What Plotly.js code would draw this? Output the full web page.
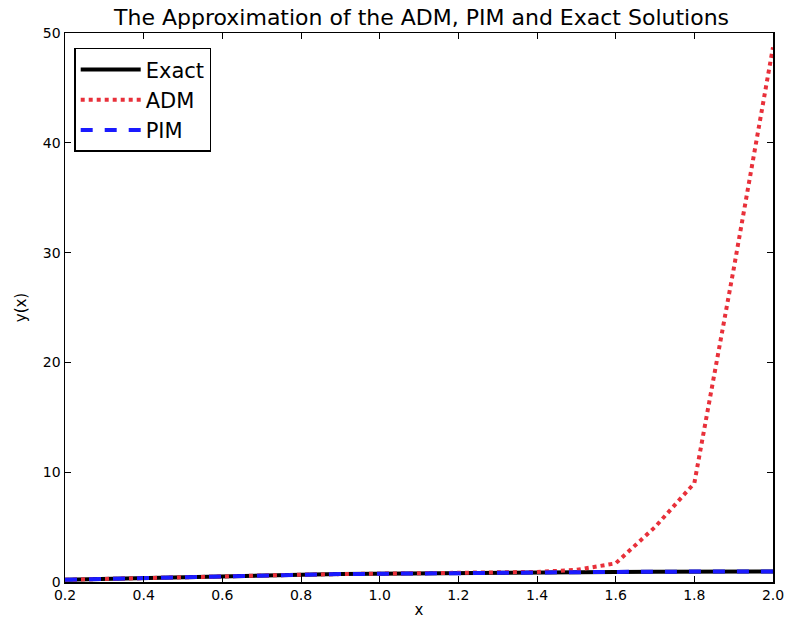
<!DOCTYPE html>
<html>
<head>
<meta charset="utf-8">
<script src="https://cdn.plot.ly/plotly-3.0.1.min.js"></script>
<style>html,body{margin:0;padding:0;background:#fff;}#chart{width:788px;height:625px;}</style>
</head>
<body>
<div id="chart"></div>
<script>
const xValues = [0.2,0.3,0.4,0.5,0.6,0.7,0.8,0.9,1.0,1.1,1.2,1.3,1.4,1.5,1.6,1.7,1.8,1.9,2.0];
const exactValues = [0.2,0.29,0.38,0.46,0.54,0.6,0.66,0.72,0.76,0.8,0.83,0.86,0.89,0.9,0.92,0.94,0.95,0.96,0.96];
const admValues = [0.2,0.29,0.38,0.46,0.54,0.6,0.66,0.72,0.76,0.8,0.83,0.86,0.92,1.1,1.7,5.0,9.0,28.5,48.7];
const pimValues = [0.2,0.29,0.38,0.46,0.54,0.6,0.66,0.72,0.76,0.8,0.83,0.86,0.89,0.9,0.92,0.94,0.95,0.96,0.96];
const seriesNames = ["Exact","ADM","PIM"];

const font = "DejaVu Sans, sans-serif";
const traces = [
  {x:xValues, y:exactValues, name:seriesNames[0], mode:'lines', line:{color:'#000000', width:4}},
  {x:xValues, y:admValues, name:seriesNames[1], mode:'lines', line:{color:'#e8303a', width:4, dash:'dot'}},
  {x:xValues, y:pimValues, name:seriesNames[2], mode:'lines', line:{color:'#1a1aff', width:4, dash:'dash'}}
];
const axisCommon = {
  showgrid:false, zeroline:false, showline:true, linecolor:'#000', linewidth:1.5,
  mirror:'ticks', ticks:'inside', ticklen:6, tickcolor:'#000', tickwidth:1,
  tickfont:{family:font, size:14, color:'#000'}
};
const layout = {
  width:788, height:625,
  margin:{l:65, r:15, t:33, b:43},
  paper_bgcolor:'#fff', plot_bgcolor:'#fff',
  title:{text:'The Approximation of the ADM, PIM and Exact Solutions', font:{family:font, size:22, color:'#000'}, x:0.535, xanchor:'center', y:0.972, yanchor:'middle'},
  xaxis:Object.assign({}, axisCommon, {range:[0.2,2.0], dtick:0.2, tick0:0.2, tickformat:'.1f',
    title:{text:'x', font:{family:font, size:15, color:'#000'}, standoff:2}}),
  yaxis:Object.assign({}, axisCommon, {range:[0,50], dtick:10, tick0:0,
    title:{text:'y(x)', font:{family:font, size:15, color:'#000'}, standoff:12}}),
  legend:{x:0.013, y:0.973, xanchor:'left', yanchor:'top', bordercolor:'#000', borderwidth:1.5, bgcolor:'#fff',
    font:{family:font, size:21, color:'#000'}, tracegroupgap:0, itemwidth:60},
  showlegend:true
};
Plotly.newPlot('chart', traces, layout, {displayModeBar:false, staticPlot:true});
</script>
</body>
</html>
